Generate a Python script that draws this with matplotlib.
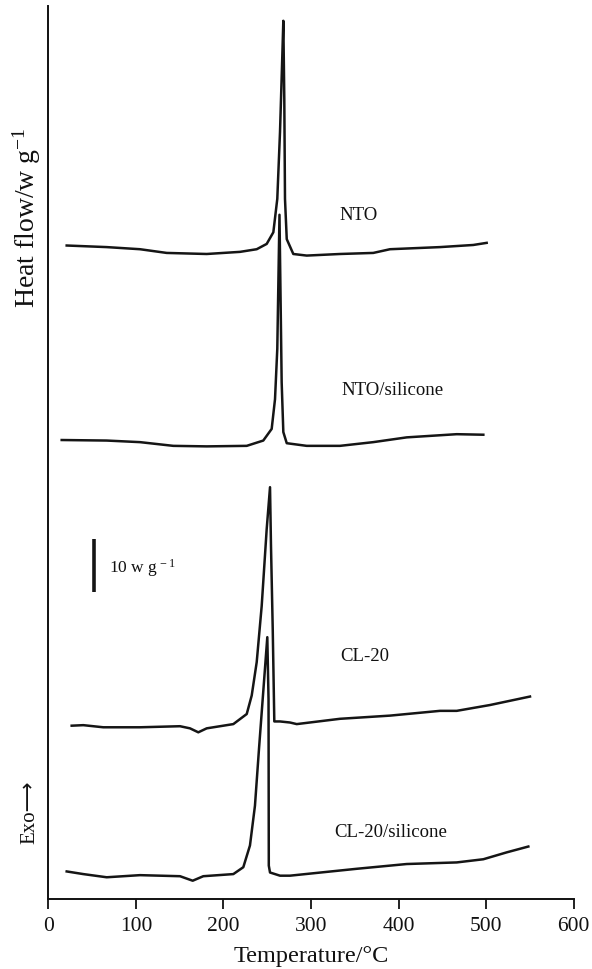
import matplotlib
matplotlib.use("Agg")
import matplotlib.pyplot as plt
import numpy as np

plt.rcParams['font.family'] = ['Liberation Serif', 'DejaVu Sans']
plt.rcParams['mathtext.fontset'] = 'custom'
plt.rcParams['mathtext.rm'] = 'Liberation Serif'
plt.rcParams['mathtext.it'] = 'Liberation Serif:italic'

# ---------------- data (temperature in °C, heat flow in w g^-1 relative to each baseline) -------------
nto_T = [21.0, 66.7, 104.7, 135.2, 180.9, 218.9, 238.0, 249.4, 257.0, 261.5, 264.6, 266.9,
         268.4, 269.5, 270.3, 272.3, 279.8, 295.1, 333.1, 371.1, 390.2, 447.3, 485.3, 500.6]
nto_hf = [1.3, 1.0, 0.6, -0.1, -0.3, 0.1, 0.6, 1.6, 3.8, 10.1, 22.7, 35.2,
          43.7, 28.9, 10.1, 2.5, -0.3, -0.6, -0.3, -0.1, 0.6, 1.0, 1.4, 1.8]

ntos_T = [15.3, 66.7, 104.7, 142.7, 180.9, 226.6, 245.5, 255.1, 258.9, 261.5, 264.0,
          266.5, 268.4, 272.3, 295.1, 333.1, 371.1, 409.3, 466.4, 496.8]
ntos_hf = [1.1, 1.0, 0.7, 0.0, -0.1, 0.0, 1.0, 3.2, 8.8, 18.3, 43.6,
           12.0, 2.6, 0.5, 0.0, 0.0, 0.7, 1.6, 2.2, 2.1]

cl_T = [26.7, 40.0, 62.8, 104.7, 150.4, 161.8, 171.3, 180.9, 211.3, 226.6, 232.3, 238.0,
        243.7, 249.4, 253.2, 254.3, 256.3, 258.1, 264.6, 276.0, 283.7, 333.1, 390.2,
        447.3, 466.4, 504.4, 550.1]
cl_hf = [0.2, 0.3, -0.1, -0.1, 0.1, -0.3, -1.05, -0.3, 0.5, 2.4, 5.9, 12.2,
         22.8, 37.3, 45.2, 34.2, 18.4, 1.0, 1.0, 0.8, 0.5, 1.5, 2.1,
         3.0, 3.0, 4.1, 5.7]

cls_T = [21.0, 40.0, 66.7, 104.7, 150.4, 164.9, 177.0, 211.3, 222.7, 230.3, 236.0, 240.6,
         250.1, 251.5, 251.8, 253.2, 264.6, 276.0, 352.2, 409.3, 466.4, 496.8, 523.5, 548.2]
cls_hf = [0.8, 0.3, -0.3, 0.1, -0.1, -0.95, -0.1, 0.3, 1.6, 5.7, 13.2, 23.9,
          45.0, 33.3, 1.9, 0.6, 0.0, 0.0, 1.3, 2.2, 2.5, 3.1, 4.4, 5.5]

labels = ["NTO", "NTO/silicone", "CL-20", "CL-20/silicone"]
offsets = [122.0, 85.5, 32.5, 4.4]          # vertical stacking offsets
label_pos = [(333, 129.2), (335, 96.1), (333, 45.9), (327, 12.7)]

x_ticks = [0, 100, 200, 300, 400, 500, 600]
scale_bar = 10  # w g^-1

# ---------------- figure ----------------
W, H = 592, 970
fig = plt.figure(figsize=(W / 100, H / 100), dpi=100)
ax = fig.add_axes([48.3 / W, (H - 900) / H, (573.7 - 48.3) / W, (900 - 7) / H])

series = [(nto_T, nto_hf), (ntos_T, ntos_hf), (cl_T, cl_hf), (cls_T, cls_hf)]
for (T, hf), off, lab, (lx, ly) in zip(series, offsets, labels, label_pos):
    ax.plot(T, np.asarray(hf) + off, color='#151515', lw=1.8, solid_joinstyle='round')
    ax.text(lx, ly, lab, fontsize=13.5, ha='left', va='center', color='#111111')

# scale bar
ax.plot([52.2, 52.2], [57.9, 57.9 + scale_bar], color='#151515', lw=2.6, solid_capstyle='butt')
ax.text(69.5, 62.6, r"10 w g$^{\,-1}$", fontsize=12.5, ha='left', va='center', color='#111111')

ax.set_xlim(0, 600)
ax.set_ylim(0, 893 / 5.3)
ax.set_xticks(x_ticks)
ax.set_xticklabels([str(t) for t in x_ticks])
ax.set_yticks([])
for s in ['top', 'right']:
    ax.spines[s].set_visible(False)
for s in ['left', 'bottom']:
    ax.spines[s].set_linewidth(1.4)
    ax.spines[s].set_color('#111111')
ax.tick_params(axis='x', direction='out', length=7.5, width=1.3, labelsize=15.5, pad=5, colors='#111111')
ax.set_xlabel("Temperature/°C", fontsize=17.5, labelpad=7, color='#111111')

fig.text(27 / W, 1 - 218 / H, r"Heat flow/w g$^{-1}$", rotation=90, fontsize=20,
         ha='center', va='center', color='#111111')
fig.text(30 / W, 1 - 812 / H, "Exo⟶", rotation=90, fontsize=15,
         ha='center', va='center', color='#111111')

fig.savefig("out.png", dpi=100)
